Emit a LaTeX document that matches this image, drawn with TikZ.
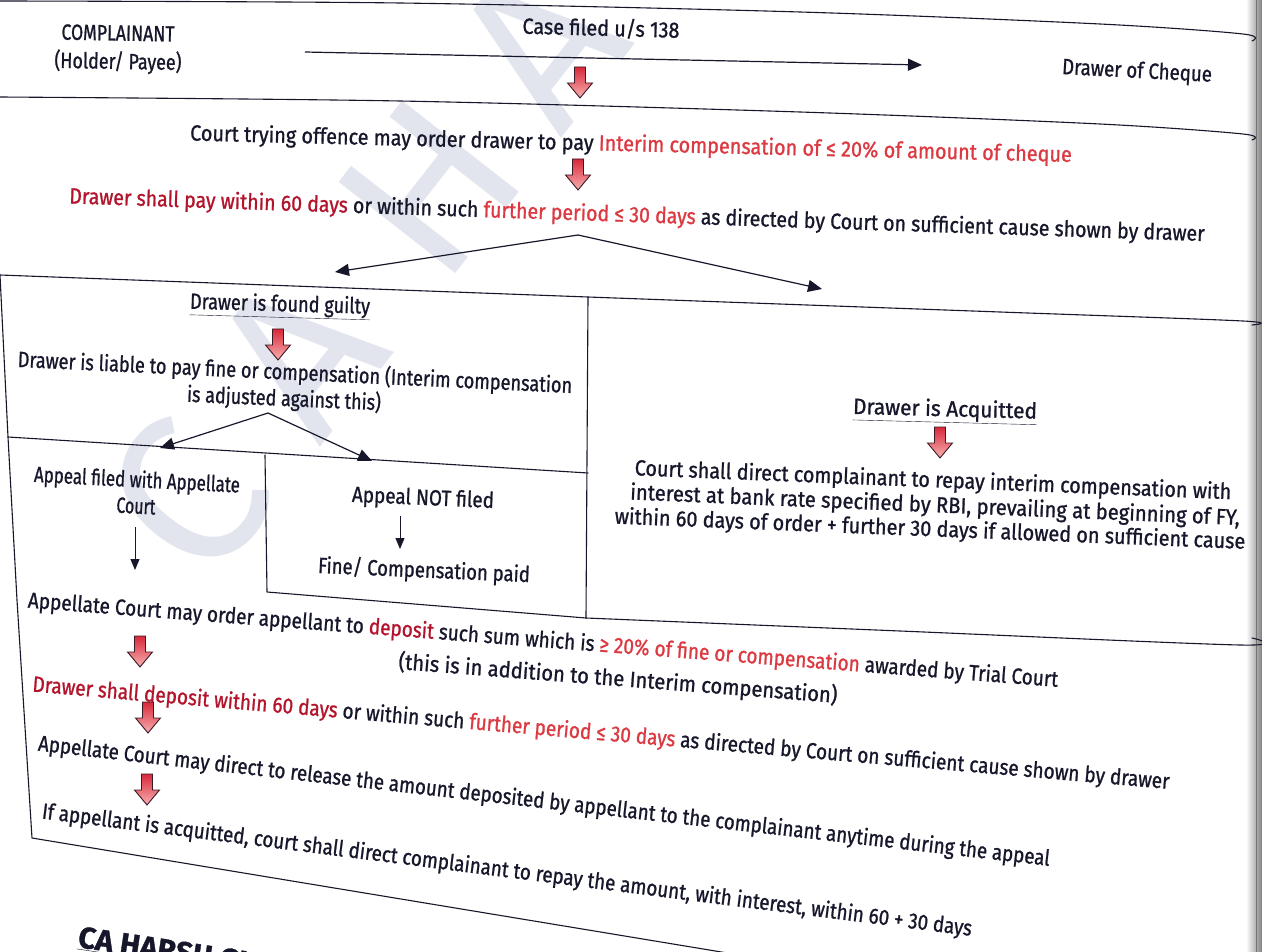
\documentclass[tikz,border=0pt]{standalone}
\usepackage{fontspec}
\usepackage{graphicx}
\setmainfont{Fira Sans}[FakeBold=1.1]
\newfontfamily\wmfont{Fira Sans}
\usetikzlibrary{arrows.meta,calc}

\definecolor{ink}{HTML}{17172C}
\definecolor{dred}{HTML}{B3142C}
\definecolor{lred}{HTML}{DC3A42}
\definecolor{arrtop}{HTML}{D8283A}
\definecolor{arrmid}{HTML}{EE6A70}
\definecolor{arrbot}{HTML}{F7B0B0}
\definecolor{arrline}{HTML}{3A1A26}
\definecolor{wmark}{HTML}{B6BDD3}

% set a line of text to a fixed width, keeping its natural height
\newcommand\fitw[2]{\resizebox{#1pt}{\height}{#2}}

\begin{document}
\begin{tikzpicture}[x=1pt,y=-1pt,
  txt/.style={inner sep=0pt, text=ink, font=\fontsize{22}{26}\selectfont},
  ln/.style={draw=ink, line width=1.1pt, line cap=round, line join=round},
  conn/.style={draw=ink, line width=1.2pt, -{Triangle[length=14pt,width=12pt]}},
  thinconn/.style={draw=ink, line width=1pt, -{Triangle[length=11pt,width=9pt]}},
  redarrow/.pic={
    \shade[top color=arrtop, middle color=arrmid, bottom color=arrbot,
           draw=arrline, line width=0.9pt, line join=miter]
      (-5.5,-16) -- (5.5,-16) -- (5.5,0) -- (12.5,0) -- (0,15) -- (-12.5,0) -- (-5.5,0) -- cycle;
  }]
\useasboundingbox (0,0) rectangle (1262,952);
\clip (0,0) rectangle (1262,952);
\fill[white] (0,0) rectangle (1262,952);

% faint diagonal watermark
\node[inner sep=0pt, anchor=west, rotate=52, text=wmark, opacity=0.38,
      font=\wmfont\fontsize{215}{215}\selectfont] (wm) at (150,545)
  {C\kern60pt A\kern20pt\ H\kern45pt A\kern45pt R\kern45pt S\kern45pt H};

% page edge at the binding
\shade[left color=white, right color=black!50] (1246,0) rectangle (1262,952);
\draw[black!55, line width=0.8pt] (1256,0) -- (1256,952);

% ---- frame lines ----
\draw[ln] plot[smooth] coordinates {(0,1) (400,3) (800,12) (1100,24) (1243,34) (1252,41)};
\draw[ln] plot[smooth] coordinates {(0,97) (400,101) (800,112) (1100,124) (1243,134) (1252,140)};
\draw[ln] plot[smooth] coordinates {(0,275) (588,297) (1000,312) (1243,321) (1252,325)};
\draw[ln] (0,275) -- (8,437) -- (17,600) -- (32,838) -- (800,965);
\draw[ln] (8,437) -- (588,473);
\draw[ln] (588,297) -- (586,618);
\draw[ln] (265,455) -- (267,592) -- (586,618);
\draw[ln] plot[smooth] coordinates {(586,618) (900,631) (1240,645) (1252,638)};

% ---- header row ----
\node[txt, rotate=-1] (cmp) at (118,33) {\fitw{113}{COMPLAINANT}};
\node[txt, rotate=-1] (hold) at (118,62) {\fitw{127}{(Holder/ Payee)}};
\node[txt, rotate=-1.5] (case) at (601,28) {\fitw{157}{Case filed u/s 138}};
\node[txt, rotate=-3] (drw) at (1137,72) {\fitw{150}{Drawer of Cheque}};
\coordinate (cfS) at (305,52);
\coordinate (cfE) at (922,65);
\draw[conn] (cfS) -- (cfE);
\pic at (580,83) {redarrow};

% ---- interim compensation ----
\node[txt, rotate=-1.4] (court) at (631,145)
  {\fitw{882}{Court trying offence may order drawer to pay {\color{lred}Interim compensation of ≤ 20\% of amount of cheque}}};
\pic at (578,175) {redarrow};
\node[txt, rotate=-1.9] (pay) at (637,216)
  {\fitw{1136}{{\color{dred}Drawer shall pay within 60 days} or within such {\color{lred}further period ≤ 30 days} as directed by Court on sufficient cause shown by drawer}};
\coordinate (br1) at (578,235);
\coordinate (br1l) at (335,272);
\coordinate (br1r) at (822,289);
\draw[conn] (br1) -- (br1l);
\draw[conn] (br1) -- (br1r);

% ---- guilty branch ----
\node[txt, rotate=-1.6] (guilty) at (280,306) {\fitw{180}{\underline{Drawer is found guilty}}};
\pic at (278,345) {redarrow};
\node[txt, rotate=-2.7] (liable) at (295,373)
  {\fitw{555}{Drawer is liable to pay fine or compensation (Interim compensation}};
\node[txt, rotate=-2.5] (adj) at (284,399) {\fitw{194}{is adjusted against this)}};
\coordinate (br2) at (268,413);
\coordinate (br2l) at (160,448);
\coordinate (br2r) at (372,461);
\draw[conn] (br2) -- (br2l);
\draw[conn] (br2) -- (br2r);

\node[txt, rotate=-3] (apf) at (137,481) {\fitw{206}{Appeal filed with Appellate}};
\node[txt, rotate=-3] (apf2) at (136,506) {\fitw{39}{Court}};
\coordinate (apS) at (135,527);
\coordinate (apE) at (135,570);
\draw[thinconn] (apS) -- (apE);

\node[txt, rotate=-2.5] (apn) at (423,499) {\fitw{142}{Appeal NOT filed}};
\coordinate (anS) at (400,516);
\coordinate (anE) at (400,549);
\draw[thinconn] (anS) -- (anE);
\node[txt, rotate=-2.5] (fine) at (424,571) {\fitw{212}{Fine/ Compensation paid}};

% ---- acquitted branch ----
\node[txt, rotate=-1.5] (acq) at (945,411) {\fitw{184}{\underline{Drawer is Acquitted}}};
\pic at (940,443) {redarrow};
\node[txt, rotate=-2.3] (acq1) at (933,481)
  {\fitw{597}{Court shall direct complainant to repay interim compensation with}};
\node[txt, rotate=-2.4] (acq2) at (935,506)
  {\fitw{610}{interest at bank rate specified by RBI, prevailing at beginning of FY,}};
\node[txt, rotate=-2.3] (acq3) at (930,530)
  {\fitw{631}{within 60 days of order + further 30 days if allowed on sufficient cause}};

% ---- appeal section ----
\node[txt, rotate=-4.4] (app1) at (543,641)
  {\fitw{1033}{Appellate Court may order appellant to {\color{dred}deposit} such sum which is {\color{lred}≥ 20\% of fine or compensation} awarded by Trial Court}};
\node[txt, rotate=-4.4] (app1b) at (618,679)
  {\fitw{440}{(this is in addition to the Interim compensation)}};
\pic at (140,652) {redarrow};
\node[txt, rotate=-4.9] (app2) at (601,734)
  {\fitw{1141}{{\color{dred}Drawer shall deposit within 60 days} or within such {\color{lred}further period ≤ 30 days} as directed by Court on sufficient cause shown by drawer}};
\pic at (148,718) {redarrow};
\node[txt, rotate=-6.5] (app3) at (544,802)
  {\fitw{1018}{Appellate Court may direct to release the amount deposited by appellant to the complainant anytime during the appeal}};
\pic at (147,790) {redarrow};
\node[txt, rotate=-7.2] (app4) at (507,871)
  {\fitw{937}{If appellant is acquitted, court shall direct complainant to repay the amount, with interest, within 60 + 30 days}};

% ---- footer ----
\node[inner sep=0pt, anchor=base west, rotate=-8.5, text=ink,
      font=\bfseries\fontsize{30}{30}\selectfont] (auth) at (77,947) {\underline{CA HARSH GUPTA}};
\end{tikzpicture}
\end{document}
